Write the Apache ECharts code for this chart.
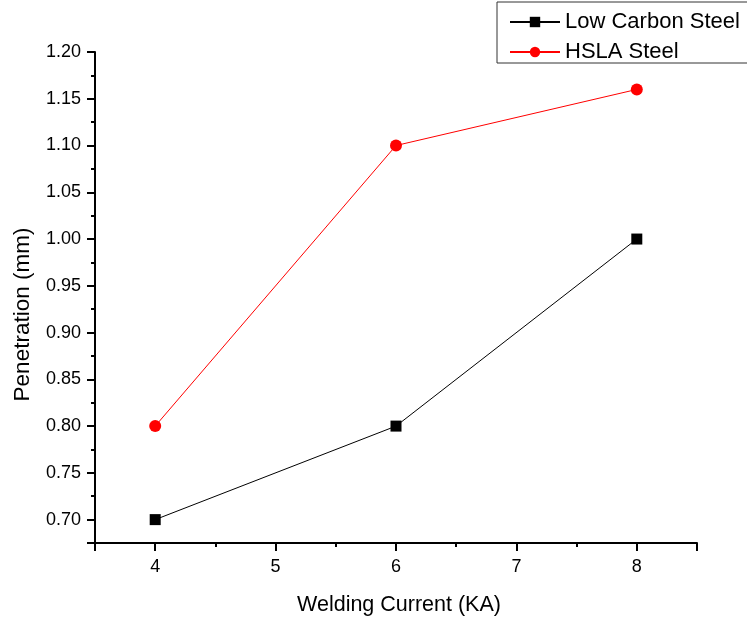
<!DOCTYPE html>
<html>
<head>
<meta charset="utf-8">
<script src="https://cdn.jsdelivr.net/npm/echarts@6/dist/echarts.min.js"></script>
<style>
  html, body { margin: 0; padding: 0; background: #fff; }
  #main { width: 747px; height: 619px; }
</style>
</head>
<body>
<div id="main"></div>
<script>
var current = [4, 6, 8];                       // Welding Current (KA)
var lowCarbon = [0.70, 0.80, 1.00];            // Low Carbon Steel
var hsla = [0.80, 1.10, 1.16];                 // HSLA Steel
var seriesNames = ['Low Carbon Steel', 'HSLA Steel'];

function pairs(xs, ys) {
    return xs.map(function (x, i) { return [x, ys[i]]; });
}

var myChart = echarts.init(document.getElementById('main'));
var font = 'Liberation Sans, Arial, sans-serif';

var option = {
    animation: false,
    backgroundColor: '#fff',
    textStyle: { fontFamily: font },
    grid: { left: 95, right: 50, top: 52, bottom: 76, outerBoundsMode: 'none', containLabel: false },
    legend: {
        orient: 'vertical',
        left: 497,
        top: 2,
        padding: [9, 40, 0, 12],
        borderColor: '#333',
        borderWidth: 1,
        itemWidth: 50,
        itemHeight: 13,
        itemGap: 8,
        textStyle: { fontSize: 22, color: '#000', fontFamily: font },
        data: seriesNames
    },
    xAxis: {
        type: 'value',
        min: 3.5,
        max: 8.5,
        splitNumber: 5,
        name: 'Welding Current (KA)',
        nameLocation: 'middle',
        nameGap: 51,
        nameTextStyle: { fontSize: 21.5, color: '#000', fontFamily: font, padding: [0, 0, 0, 6] },
        axisLine: { lineStyle: { color: '#000', width: 2 } },
        axisTick: { show: true, length: 8, lineStyle: { color: '#000', width: 2 } },
        minorTick: { show: true, splitNumber: 2, length: 4, lineStyle: { color: '#000', width: 2 } },
        axisLabel: { fontSize: 18, color: '#000', margin: 15, showMinLabel: false, showMaxLabel: false },
        splitLine: { show: false }
    },
    yAxis: {
        type: 'value',
        min: 0.675,
        max: 1.2,
        splitNumber: 10,
        name: 'Penetration (mm)',
        nameLocation: 'middle',
        nameGap: 61,
        nameTextStyle: { fontSize: 22.5, color: '#000', fontFamily: font, padding: [0, 34, 0, 0] },
        axisLine: { show: true, lineStyle: { color: '#000', width: 2 } },
        axisTick: { show: true, length: 8, lineStyle: { color: '#000', width: 2 } },
        minorTick: { show: true, splitNumber: 2, length: 4, lineStyle: { color: '#000', width: 2 } },
        axisLabel: {
            fontSize: 18, color: '#000', margin: 14, showMinLabel: false,
            formatter: function (v) {
                var r = Math.round(v * 100);
                if (r % 5 !== 0 || Math.abs(v * 100 - r) > 1e-6) return '';
                return v.toFixed(2);
            }
        },
        splitLine: { show: false }
    },
    series: [
        {
            name: seriesNames[0],
            type: 'line',
            data: pairs(current, lowCarbon),
            symbol: 'rect',
            symbolSize: 11,
            itemStyle: { color: '#000' },
            lineStyle: { color: '#000', width: 1 }
        },
        {
            name: seriesNames[1],
            type: 'line',
            data: pairs(current, hsla),
            symbol: 'circle',
            symbolSize: 12,
            itemStyle: { color: '#ff0000' },
            lineStyle: { color: '#ff0000', width: 1 }
        }
    ]
};

myChart.setOption(option);
</script>
</body>
</html>
